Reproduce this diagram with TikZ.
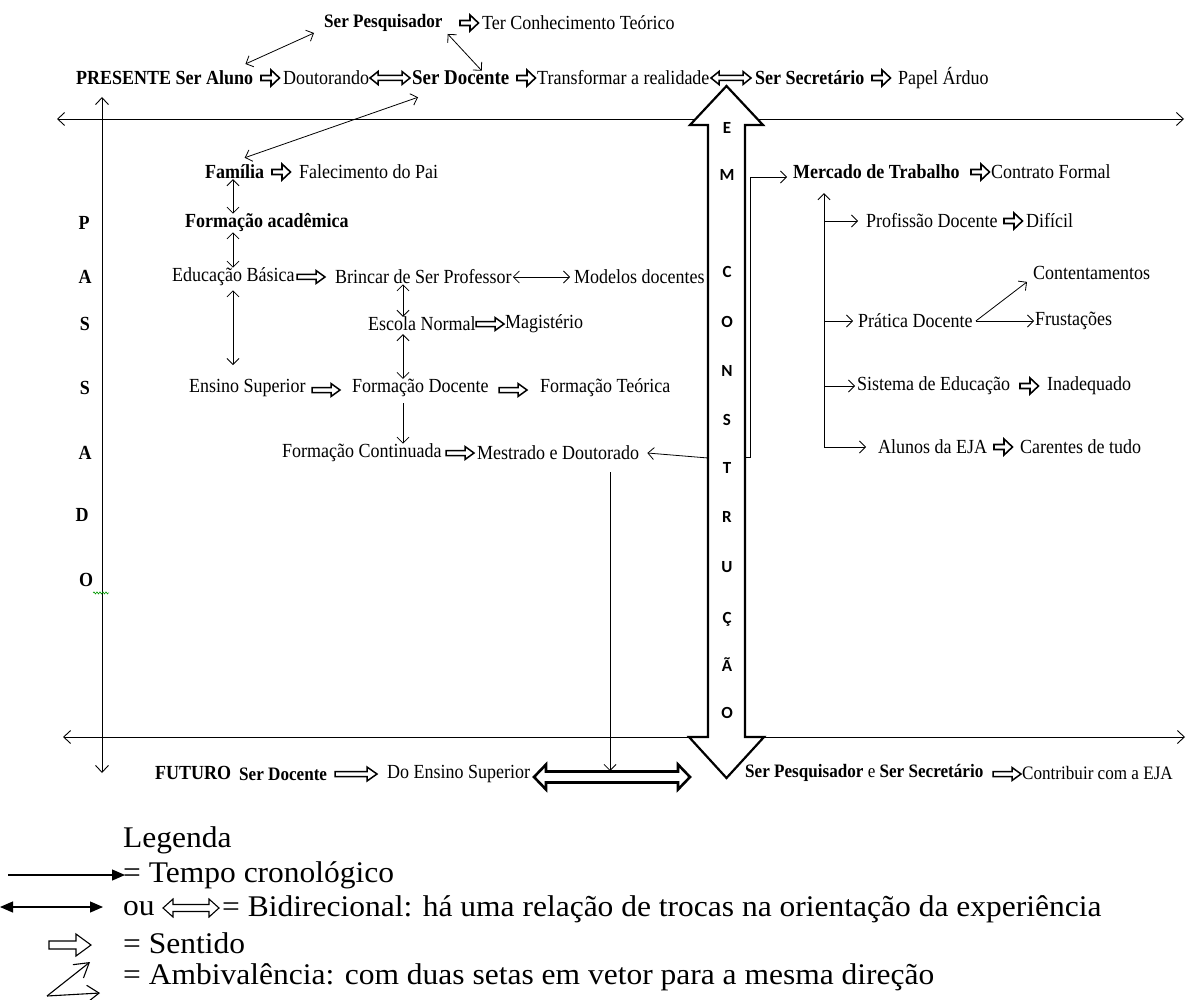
\documentclass[tikz,border=0pt]{standalone}
\usepackage{fontspec}
\setmainfont{Liberation Serif}[FakeStretch=0.9]
\newfontfamily\legfont{Liberation Serif}[FakeStretch=1.05]
\newfontfamily\calibfont{Carlito}
\usetikzlibrary{arrows.meta,decorations.pathmorphing}
\newcommand\fsm{\fontsize{20}{24}\selectfont}
\newcommand\fsml{\fontsize{19}{23}\selectfont}
\newcommand\fsbig{\fontsize{21}{24}\selectfont}
\newcommand\fsl{\legfont\fontsize{30}{33}\selectfont}
\begin{document}
\begin{tikzpicture}[x=1pt,y=-1pt,
 txt/.style={inner sep=0pt,anchor=west,font=\fsm},
 btxt/.style={inner sep=0pt,anchor=west,font=\fsm\bfseries},
 lgt/.style={inner sep=0pt,anchor=west,font=\fsl},
 letr/.style={inner sep=0pt,font=\calibfont\bfseries\fontsize{17}{20}\selectfont},
 pasl/.style={inner sep=0pt,font=\fsm\bfseries},
 thinl/.style={line width=0.8pt},
 arr/.style={thinl,-{Straight Barb[length=6pt,width=12pt]}},
 darr/.style={thinl,{Straight Barb[length=6pt,width=12pt]}-{Straight Barb[length=6pt,width=12pt]}},
 tline/.style={line width=0.9pt,{Straight Barb[length=7pt,width=13pt]}-{Straight Barb[length=7pt,width=13pt]}},
 hol/.style={line width=1.6pt,fill=white,line join=miter},
 hR/.pic={\draw[hol] (-9,-2.5)--(1,-2.5)--(1,-8)--(9.5,0)--(1,8)--(1,2.5)--(-9,2.5)--cycle;},
 hL/.pic={\draw[hol,line width=1.5pt] (-14,-2.5)--(5,-2.5)--(5,-6.5)--(14,0)--(5,6.5)--(5,2.5)--(-14,2.5)--cycle;},
 hLL/.pic={\draw[hol,line width=1.5pt] (-21,-2.5)--(11,-2.5)--(11,-7)--(21,0)--(11,7)--(11,2.5)--(-21,2.5)--cycle;},
 hLR/.pic={\draw[hol,line width=1.5pt] (-20,0)--(-12,-6.5)--(-12,-2.5)--(12,-2.5)--(12,-6.5)--(20,0)--(12,6.5)--(12,2.5)--(-12,2.5)--(-12,6.5)--cycle;},
 hBig/.pic={\draw[hol,line width=2.6pt] (-78,0)--(-66,-12.5)--(-66,-5.5)--(66,-5.5)--(66,-12.5)--(78,0)--(66,12.5)--(66,5.5)--(-66,5.5)--(-66,12.5)--cycle;},
 lgR/.pic={\draw[fill=white,line width=1.1pt,line join=miter] (-21,-4)--(6,-4)--(6,-11)--(21,0)--(6,11)--(6,4)--(-21,4)--cycle;},
 lgLR/.pic={\draw[fill=white,line width=1.1pt,line join=miter] (-28,0)--(-18,-9)--(-18,-3.5)--(18,-3.5)--(18,-9)--(28,0)--(18,9)--(18,3.5)--(-18,3.5)--(-18,9)--cycle;},
]
\useasboundingbox (0,0) rectangle (1188,1000);

% timelines
\draw[tline] (57,119) -- (1184,119);
\draw[tline] (63,737) -- (1185,737);
\draw[tline] (102,97) -- (102,773);

% big vertical double arrow
\draw[line width=2.2pt,fill=white,line join=miter] (708,125) -- (690,125) -- (726.5,86) -- (763,125) -- (745,125) -- (745,737) -- (764,737) -- (726.5,778) -- (689,737) -- (708,737) -- cycle;
\coordinate (shaftL) at (708,458);
\coordinate (shaftR) at (745,457);
\node[letr] (l1) at (727,128) {E};
\node[letr] (l2) at (727,175) {M};
\node[letr] (l3) at (727,272) {C};
\node[letr] (l4) at (727,322) {O};
\node[letr] (l5) at (727,371) {N};
\node[letr] (l6) at (727,420) {S};
\node[letr] (l7) at (727,468) {T};
\node[letr] (l8) at (727,517) {R};
\node[letr] (l9) at (727,567) {U};
\node[letr] (l10) at (727,619) {Ç};
\node[letr] (l11) at (727,665) {Ã};
\node[letr] (l12) at (727,713) {O};

% PASSADO
\node[pasl] (p1) at (84,223) {P};
\node[pasl] (p2) at (85,277) {A};
\node[pasl] (p3) at (85,324) {S};
\node[pasl] (p4) at (85,388) {S};
\node[pasl] (p5) at (85,453) {A};
\node[pasl] (p6) at (82,515) {D};
\node[pasl] (p7) at (86,580) {O};
\draw[green!60!black,line width=0.6pt,decorate,decoration={zigzag,amplitude=1pt,segment length=3pt}] ([shift={(0,6)}]p7.south east) -- ++(16,0);

% top rows
\node[btxt,font=\fsml\bfseries] (sp) at (324,23) {Ser Pesquisador};
\pic at (469,23) {hR};
\node[txt] (tct) at (482,23) {Ter Conhecimento Teórico};

\node[btxt] (pres) at (76,78) {PRESENTE Ser Aluno};
\pic at (270,78) {hR};
\node[txt] (dout) at (283,78) {Doutorando};
\pic at (390,78) {hLR};
\node[btxt,font=\fsbig\bfseries] (sdoc) at (412,78) {Ser Docente};
\pic at (526,78) {hR};
\node[txt] (trans) at (537,78) {Transformar a realidade};
\pic at (731,78) {hLR};
\node[btxt] (ssec) at (755,78) {Ser Secretário};
\pic at (881,78) {hR};
\node[txt] (papel) at (898,78) {Papel Árduo};

\draw[darr] ([shift={(-8,-14)}]pres.east) -- ([shift={(-10,10)}]sp.west);
\draw[darr] ([shift={(5,11)}]sp.east) -- ([shift={(21,0)}]sdoc.north);

% left column
\coordinate (colA) at (233,0);
\coordinate (colB) at (403,0);
\node[btxt] (fam) at (205,172) {Família};
\pic at (281,172) {hR};
\node[txt] (falec) at (299,172) {Falecimento do Pai};
\node[btxt] (facad) at (185,223) {Formação acadêmica};
\node[txt] (edb) at (172,277) {Educação Básica};
\pic at (311,277) {hL};
\node[txt] (brinc) at (335,277) {Brincar de Ser Professor};
\node[txt] (model) at (574,277) {Modelos docentes};
\node[txt] (escola) at (368,324) {Escola Normal};
\pic at (490,324) {hL};
\node[txt] (magis) at (505,324) {Magistério};
\node[txt] (ensino) at (189,388) {Ensino Superior};
\pic at (326,390) {hL};
\node[txt] (fdoc) at (352,388) {Formação Docente};
\pic at (513,390) {hL};
\node[txt] (fteo) at (540,388) {Formação Teórica};
\node[txt] (fcont) at (282,453) {Formação Continuada};
\pic at (460,453) {hL};
\node[txt] (mest) at (477,453) {Mestrado e Doutorado};

\draw[darr] ([shift={(10,-7)}]fam.north) -- ([shift={(6,12)}]sdoc.south west);
\draw[darr] (colA |- fam.south) -- (colA |- facad.north);
\draw[darr] (colA |- facad.south) -- (colA |- edb.north);
\draw[darr,shorten <=4pt,shorten >=14pt] (colA |- edb.south) -- (colA |- ensino.north);
\draw[darr] (colB |- brinc.south) -- (colB |- escola.north);
\draw[darr,shorten <=3pt] (colB |- escola.south) -- (colB |- fdoc.north);
\draw[arr,shorten <=6pt] (colB |- fdoc.south) -- (colB |- fcont.north);
\draw[darr,shorten <=1pt,shorten >=4pt] (brinc.east) -- (model.west);
\draw[arr] (shaftL) -- ([xshift=8pt]mest.east);

% bottom row
\node[btxt] (fut1) at (155,773) {FUTURO};
\node[btxt,font=\fsml\bfseries] (fut2) at (239,774) {Ser Docente};
\pic at (356,774) {hLL};
\node[txt] (doens) at (387,774) {Do Ensino Superior};
\pic at (612,777) {hBig};
\coordinate (fut) at (610,771);
\draw[arr,shorten <=12pt] (fut |- mest.south) -- (fut);
\node[txt,font=\fsml] (spss) at (745,773) {\textbf{Ser Pesquisador} e \textbf{Ser Secretário}};
\pic at (1007,774) {hL};
\node[txt,font=\fsml] (contrib) at (1022,773) {Contribuir com a EJA};

% right column
\node[btxt] (merc) at (793,172) {Mercado de Trabalho};
\pic at (980,172) {hR};
\node[txt] (contr) at (991,172) {Contrato Formal};
\draw[arr] (shaftR) -- ++(5,0) |- ([shift={(-6,5)}]merc.west);
\coordinate (trunk) at (824,447);
\draw[arr,shorten >=14pt] (trunk) -- (trunk |- merc.south);
\node[txt] (prof) at (866,221) {Profissão Docente};
\pic at (1013,221) {hR};
\node[txt] (dif) at (1026,221) {Difícil};
\node[txt] (cont) at (1033,273) {Contentamentos};
\node[txt] (prat) at (858,321) {Prática Docente};
\node[txt] (frust) at (1035,321) {Frustações};
\node[txt] (sist) at (857,386) {Sistema de Educação};
\pic at (1029,386) {hR};
\node[txt] (inad) at (1047,386) {Inadequado};
\node[txt] (alun) at (878,447) {Alunos da EJA};
\pic at (1003,447) {hR};
\node[txt] (caren) at (1020,447) {Carentes de tudo};
\draw[arr] (trunk |- prof.west) -- ([xshift=-8pt]prof.west);
\draw[arr] (trunk |- prat.west) -- ([xshift=-5pt]prat.west);
\draw[arr] (trunk |- sist.west) -- ([xshift=-2pt]sist.west);
\draw[arr] (trunk) -- ([xshift=-12pt]alun.west);
\draw[arr] ([xshift=3pt]prat.east) -- ([shift={(-6,2)}]cont.south west);
\draw[arr] ([xshift=3pt]prat.east) -- ([xshift=-1pt]frust.west);

% legend
\coordinate (legx) at (8,0);
\node[lgt] (leg) at (123,840) {Legenda};
\node[lgt] (tempo) at (123,875) {= Tempo cronológico};
\node[lgt] (ou) at (123,909) {ou};
\pic at (191,908) {lgLR};
\node[lgt] (bidir) at (222,909) {= Bidirecional: há uma relação de trocas na orientação da experiência};
\pic at (70,945) {lgR};
\node[lgt] (sent) at (123,943) {= Sentido};
\node[lgt] (amb) at (123,977) {= Ambivalência: com duas setas em vetor para a mesma direção};
\draw[line width=1.2pt,-{Triangle[length=13pt,width=11pt]},shorten >=-2pt] (legx |- tempo.west) -- (tempo.west);
\draw[line width=1.2pt,{Triangle[length=13pt,width=11pt]}-{Triangle[length=13pt,width=11pt]}] ([shift={(-8,-2)}]legx |- ou.west) -- ([shift={(-20,-2)}]ou.west);
\coordinate (av) at (47,996);
\draw[line width=1.1pt,-{Straight Barb[length=14pt,width=17pt]}] (av) -- (90,962);
\draw[line width=1.1pt,-{Straight Barb[length=12pt,width=17pt]}] (av) -- (100,993);
\end{tikzpicture}
\end{document}
